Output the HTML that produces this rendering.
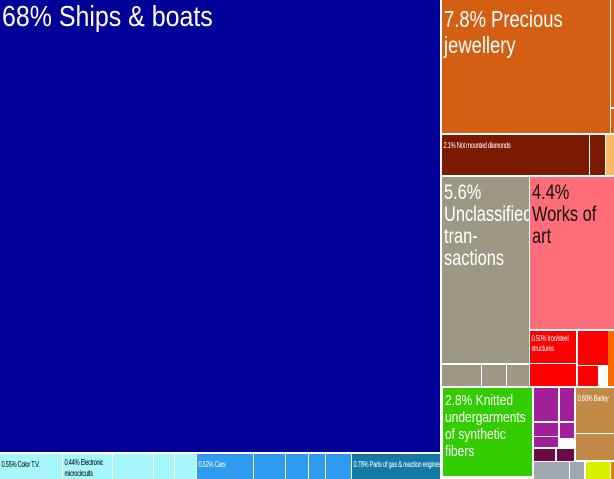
<!DOCTYPE html>
<html><head><meta charset="utf-8"><style>
body{margin:0;width:614px;height:479px;overflow:hidden;background:#fff;position:relative;font-family:"Liberation Sans",sans-serif}
div{position:absolute;box-sizing:border-box;overflow:hidden}
.t{color:#fff;line-height:1;white-space:nowrap;transform-origin:0 0;display:inline-block}
.s{display:inline-block;font-size:8px;letter-spacing:-0.4px;color:#fff;white-space:nowrap;padding:3px 0 0 2px;transform:scaleX(0.72);transform-origin:0 0}
</style></head><body>
<div style="left:0;top:0;width:440px;height:452px;background:#000099"><span class="t" style="position:absolute;left:2px;top:3px;font-size:29px;transform:scaleX(0.86)">68% Ships &amp; boats</span></div>
<div style="left:0;top:454px;width:62px;height:25px;background:#a6f6fc"><span class="s" style="color:#000">0.55% Color T.V.</span></div>
<div style="left:63px;top:454px;width:49px;height:25px;background:#a6f6fc"><span class="s" style="color:#000;line-height:11px">0.44% Electronic<br>microcircuits</span></div>
<div style="left:113px;top:454px;width:40px;height:25px;background:#a6f6fc"></div>
<div style="left:154px;top:454px;width:20px;height:25px;background:#a6f6fc"></div>
<div style="left:175px;top:454px;width:21px;height:25px;background:#a6f6fc"></div>
<div style="left:197px;top:454px;width:56px;height:25px;background:#2e9af0"><span class="s">0.52% Cars</span></div>
<div style="left:254px;top:454px;width:31px;height:25px;background:#2e9af0"></div>
<div style="left:286px;top:454px;width:22px;height:25px;background:#2e9af0"></div>
<div style="left:309px;top:454px;width:16px;height:25px;background:#2e9af0"></div>
<div style="left:326px;top:454px;width:25px;height:25px;background:#2e9af0"></div>
<div style="left:352px;top:454px;width:88px;height:25px;background:#137aa4"><span class="s">0.78% Parts of gas &amp; reaction engines</span></div>
<div style="left:442px;top:0;width:168px;height:133px;background:#d45e11"><span class="t" style="position:absolute;left:2px;top:6px;font-size:23px;line-height:26px;transform:scaleX(0.8)">7.8% Precious<br>jewellery</span></div>
<div style="left:611px;top:0;width:3px;height:107px;background:#d45e11"></div>
<div style="left:611px;top:109px;width:3px;height:24px;background:#d45e11"></div>
<div style="left:442px;top:135px;width:147px;height:40px;background:#7a1a00"><span class="s">2.1% Not mounted diamonds</span></div>
<div style="left:590px;top:135px;width:15px;height:40px;background:#7a1a00"></div>
<div style="left:606px;top:135px;width:8px;height:40px;background:#f7b867"></div>
<div style="left:442px;top:177px;width:87px;height:186px;background:#9c9884"><span class="t" style="position:absolute;left:2px;top:5px;font-size:21px;line-height:22px;transform:scaleX(0.78)">5.6%<br>Unclassified<br>tran-<br>sactions</span></div>
<div style="left:442px;top:365px;width:39px;height:21px;background:#9c9884"></div>
<div style="left:482px;top:365px;width:24px;height:21px;background:#9c9884"></div>
<div style="left:507px;top:365px;width:22px;height:21px;background:#9c9884"></div>
<div style="left:530px;top:177px;width:84px;height:152px;background:#ff6e78"><span class="t" style="position:absolute;left:2px;top:5px;font-size:21px;line-height:22px;color:#111;transform:scaleX(0.78)">4.4%<br>Works of<br>art</span></div>
<div style="left:530px;top:331px;width:46px;height:32px;background:#ff0000"><span class="s" style="line-height:10px">0.50% Iron/steel<br>structures</span></div>
<div style="left:530px;top:364px;width:46px;height:22px;background:#ff0000"></div>
<div style="left:578px;top:331px;width:30px;height:34px;background:#ff0000"></div>
<div style="left:578px;top:366px;width:20px;height:20px;background:#ff0000"></div>
<div style="left:608px;top:331px;width:6px;height:55px;background:#ff6a00"></div>
<div style="left:443px;top:388px;width:89px;height:88px;background:#33cc00"><span class="t" style="position:absolute;left:2px;top:4px;font-size:15px;line-height:17px;transform:scaleX(0.8)">2.8% Knitted<br>undergarments<br>of synthetic<br>fibers</span></div>
<div style="left:534px;top:388px;width:24px;height:33px;background:#a21f9a"></div>
<div style="left:560px;top:388px;width:14px;height:33px;background:#a21f9a"></div>
<div style="left:534px;top:423px;width:24px;height:13px;background:#a21f9a"></div>
<div style="left:560px;top:423px;width:14px;height:15px;background:#a21f9a"></div>
<div style="left:534px;top:437px;width:24px;height:10px;background:#a21f9a"></div>
<div style="left:534px;top:449px;width:21px;height:12px;background:#6c0a46"></div>
<div style="left:557px;top:449px;width:17px;height:12px;background:#6c0a46"></div>
<div style="left:576px;top:388px;width:38px;height:45px;background:#c28a47"><span class="s">0.60% Barley</span></div>
<div style="left:576px;top:434px;width:38px;height:26px;background:#c28a47"></div>
<div style="left:534px;top:462px;width:35px;height:17px;background:#a0a8b0"></div>
<div style="left:570px;top:462px;width:14px;height:17px;background:#a0a8b0"></div>
<div style="left:586px;top:462px;width:24px;height:17px;background:#d8f000"></div>
<div style="left:611px;top:462px;width:3px;height:17px;background:#e88000"></div>
</body></html>
